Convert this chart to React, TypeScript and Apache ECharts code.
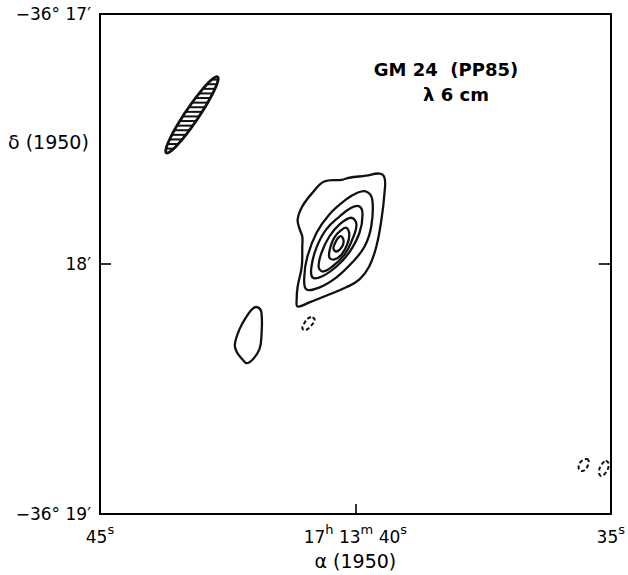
import React, { useEffect, useRef } from "react";
import * as echarts from "echarts";

// Axis ticks (x: RA seconds of 17h13m, y: arcsec south of -36°17')
const xTickValues = [35, 40, 45];
const xTickLabels = ["35{s|s}", "17{s|h} 13{s|m} 40{s|s}", "45{s|s}"];
const yTickValues = [0, 60, 120];
const yTickLabels = ["−36° 17′", "18′", "−36° 19′"];

// Contours: [RA seconds, arcsec below -36°17']
const contourOuter = [
  [40.61, 40.2], [40.27, 39.8], [40.12, 39.3], [39.79, 38.8], [39.53, 38.3],
  [39.43, 39.3], [39.43, 42.9], [39.49, 49.3], [39.59, 55.8], [39.73, 60.6],
  [39.92, 63.7], [40.18, 65.6], [40.51, 67.3], [40.9, 69.2], [41.13, 70.2],
  [41.15, 68.5], [41.13, 65.4], [41.05, 60.6], [41.04, 55.8], [41.04, 53.4],
  [41.09, 51.7], [41.13, 49.3], [41.04, 46.2], [40.84, 42.9],
];
const contour2 = [
  [39.79, 42.6], [39.67, 44.5], [39.69, 51.0], [39.82, 55.8], [40.06, 59.6],
  [40.37, 63.2], [40.7, 65.6], [40.96, 66.1], [41.0, 63.0], [40.94, 58.2],
  [40.76, 52.5], [40.51, 48.1], [40.18, 44.5], [39.96, 42.9],
];
const contour3 = [
  [39.92, 46.2], [39.86, 48.1], [39.92, 52.5], [40.12, 57.2], [40.37, 60.6],
  [40.66, 63.0], [40.84, 63.2], [40.86, 60.6], [40.76, 56.0], [40.57, 51.7],
  [40.31, 48.6], [40.08, 46.5],
];
const contour4 = [
  [40.08, 48.9], [39.98, 50.5], [40.06, 54.1], [40.21, 57.7], [40.45, 60.6],
  [40.64, 61.8], [40.72, 60.6], [40.66, 57.2], [40.51, 53.4], [40.31, 50.5],
];
const contour5 = [
  [40.18, 51.3], [40.12, 52.9], [40.16, 55.3], [40.27, 57.7], [40.41, 58.9],
  [40.51, 58.4], [40.49, 56.0], [40.41, 53.6], [40.29, 52.0],
];
const contour6 = [
  [40.27, 53.4], [40.23, 54.6], [40.27, 56.0], [40.37, 57.0], [40.43, 56.3],
  [40.39, 54.8], [40.33, 53.6],
];
const contourWest = [
  [41.91, 70.4], [41.84, 71.6], [41.84, 77.4], [41.88, 80.5], [42.01, 82.9],
  [42.13, 83.8], [42.21, 82.9], [42.32, 81.2], [42.36, 79.3], [42.27, 75.7],
  [42.13, 72.6], [42.01, 70.7],
];
// Negative (dashed) contours
const negContourA = [
  [40.84, 72.8], [40.8, 73.5], [40.88, 75.0], [40.98, 75.9], [41.04, 75.4],
  [41.0, 74.2], [40.92, 73.0],
];
const negContourB = [
  [35.47, 106.8], [35.43, 107.5], [35.49, 109.2], [35.57, 109.7], [35.63, 109.0],
  [35.59, 107.5],
];
const negContourC = [
  [35.1, 107.3], [35.04, 108.0], [35.08, 109.7], [35.18, 110.9], [35.23, 110.2],
  [35.2, 108.5],
];

const solidContours = [contourOuter, contour2, contour3, contour4, contour5, contour6, contourWest];
const dashedContours = [negContourA, negContourB, negContourC];

// Beam: centre [RA s, arcsec], FWHM axes (arcsec), position angle (deg)
const beamCenter = [43.2, 24.2];
const beamMajor = 22.0;
const beamMinor = 3.3;
const beamPA = 34;

const FONT = "DejaVu Sans";

export default function App() {
  const ref = useRef<HTMLDivElement>(null);
  useEffect(() => {
    if (!ref.current) return;
    const chart = echarts.init(ref.current, undefined, { renderer: "svg" });

    const contourSeries = (list: number[][][], dashed: boolean) => ({
      type: "custom",
      xAxisIndex: 0,
      yAxisIndex: 0,
      silent: true,
      clip: false,
      data: list.map((c, i) => [c[0][0], c[0][1], i]),
      encode: { x: 0, y: 1 },
      renderItem: (params: any, api: any) => {
        const c = list[params.dataIndex];
        const pts = c.map((p) => api.coord(p));
        return {
          type: "polygon",
          shape: { points: pts, smooth: 0.4 },
          style: {
            fill: "none",
            stroke: "#111",
            lineWidth: dashed ? 2 : 2.3,
            lineDash: dashed ? [4, 2.5] : null,
          },
        };
      },
    });

    const beamSeries = {
      type: "custom",
      xAxisIndex: 0,
      yAxisIndex: 0,
      silent: true,
      data: [[beamCenter[0], beamCenter[1]]],
      encode: { x: 0, y: 1 },
      renderItem: (params: any, api: any) => {
        const [cx, cy] = api.coord(beamCenter);
        const pxPer = Math.abs(api.size([0, 1])[1]);
        const a = (beamMajor / 2) * pxPer;
        const b = (beamMinor / 2) * pxPer;
        const th = (beamPA * Math.PI) / 180;
        const ux = Math.sin(th), uy = -Math.cos(th);
        const vx = Math.cos(th), vy = Math.sin(th);
        const outline: number[][] = [];
        for (let k = 0; k < 72; k++) {
          const t = (k / 72) * Math.PI * 2;
          outline.push([
            cx + a * Math.cos(t) * ux + b * Math.sin(t) * vx,
            cy + a * Math.cos(t) * uy + b * Math.sin(t) * vy,
          ]);
        }
        const children: any[] = [];
        const ext = Math.sqrt((a * uy) ** 2 + (b * vy) ** 2);
        const A = (ux * ux) / (a * a) + (vx * vx) / (b * b);
        for (let dy = -ext + 3; dy < ext - 1; dy += 4.6) {
          const B = 2 * dy * ((ux * uy) / (a * a) + (vx * vy) / (b * b));
          const C = (dy * uy) ** 2 / (a * a) + (dy * vy) ** 2 / (b * b) - 1;
          const disc = B * B - 4 * A * C;
          if (disc <= 0) continue;
          const r = Math.sqrt(disc);
          const x1 = (-B - r) / (2 * A), x2 = (-B + r) / (2 * A);
          children.push({
            type: "line",
            shape: { x1: cx + x1, y1: cy + dy, x2: cx + x2, y2: cy + dy },
            style: { stroke: "#111", lineWidth: 2 },
          });
        }
        children.push({
          type: "polygon",
          shape: { points: outline },
          style: { fill: "none", stroke: "#111", lineWidth: 2.8 },
        });
        return { type: "group", children };
      },
    };

    const xLabel = (v: number) => {
      const i = xTickValues.indexOf(v);
      return i >= 0 ? xTickLabels[i] : "";
    };
    const yLabel = (v: number) => {
      const i = yTickValues.indexOf(v);
      return i >= 0 ? yTickLabels[i] : "";
    };

    const axisLine = { onZero: false, lineStyle: { color: "#000", width: 2 } };

    chart.setOption({
      animation: false,
      backgroundColor: "#fff",
      grid: { left: 100, right: 16, top: 14, bottom: 60 },
      xAxis: [
        {
          type: "value",
          min: 35,
          max: 45,
          interval: 5,
          inverse: true,
          position: "bottom",
          axisLine,
          axisTick: { inside: true, length: 10, lineStyle: { color: "#000", width: 1.6 } },
          splitLine: { show: false },
          axisLabel: {
            formatter: xLabel,
            color: "#000",
            fontFamily: FONT,
            fontSize: 17,
            margin: 9,
            rich: { s: { fontSize: 13, fontFamily: FONT, color: "#000", padding: [0, 0, 14, 0] } },
          },
          name: "α (1950)",
          nameLocation: "middle",
          nameGap: 37,
          nameTextStyle: { color: "#000", fontFamily: FONT, fontSize: 19 },
        },
        {
          type: "value",
          min: 35,
          max: 45,
          interval: 5,
          inverse: true,
          position: "top",
          axisLine,
          axisTick: { show: false },
          axisLabel: { show: false },
          splitLine: { show: false },
        },
      ],
      yAxis: [
        {
          type: "value",
          min: 0,
          max: 120,
          interval: 60,
          inverse: true,
          position: "left",
          axisLine,
          axisTick: { inside: true, length: 11, lineStyle: { color: "#000", width: 1.6 } },
          splitLine: { show: false },
          axisLabel: {
            formatter: yLabel,
            color: "#000",
            fontFamily: FONT,
            fontSize: 17,
            margin: 9,
          },
        },
        {
          type: "value",
          min: 0,
          max: 120,
          interval: 60,
          inverse: true,
          position: "right",
          axisLine,
          axisTick: { inside: true, length: 12, lineStyle: { color: "#000", width: 1.6 } },
          axisLabel: { show: false },
          splitLine: { show: false },
        },
      ],
      graphic: [
        {
          type: "text",
          left: 8,
          top: 132,
          style: { text: "δ (1950)", font: `19px "${FONT}"`, fill: "#000" },
        },
        {
          type: "text",
          x: 446,
          y: 69,
          style: {
            text: "GM 24  (PP85)",
            font: `bold 18px "${FONT}"`,
            fill: "#000",
            textAlign: "center",
            textVerticalAlign: "middle",
          },
        },
        {
          type: "text",
          x: 456,
          y: 94,
          style: {
            text: "λ 6 cm",
            font: `bold 18px "${FONT}"`,
            fill: "#000",
            textAlign: "center",
            textVerticalAlign: "middle",
          },
        },
      ],
      series: [
        beamSeries,
        contourSeries(solidContours, false),
        contourSeries(dashedContours, true),
      ],
    });
    return () => chart.dispose();
  }, []);

  return (
    <div
      ref={ref}
      style={{ position: "fixed", left: 0, top: 0, width: 628, height: 575, background: "#fff" }}
    />
  );
}
